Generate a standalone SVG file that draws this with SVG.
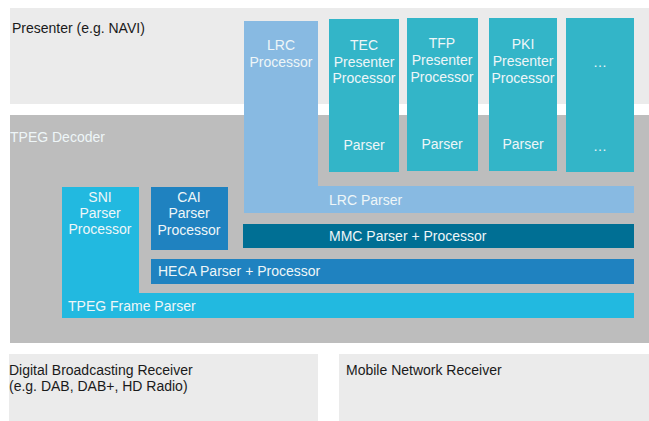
<svg xmlns="http://www.w3.org/2000/svg" width="649" height="421" viewBox="0 0 649 421">
<style>
text{font-family:"Liberation Sans",Arial,sans-serif;font-size:14px}
.dk{fill:#1a1a1a}
.lt{fill:#eef6f8}
.c{text-anchor:middle}
.teal{fill:#33b5c8}
</style>
<rect width="649" height="421" fill="#ffffff"/>
<g id="presenter">
<rect x="10" y="8" width="639" height="96" fill="#ebebeb"/>
<text class="dk" x="12" y="33">Presenter (e.g. NAVI)</text>
</g>
<g id="decoder">
<rect x="10" y="115" width="639" height="228" fill="#bdbdbd"/>
<text class="lt" x="10" y="142">TPEG Decoder</text>
</g>
<g id="lrc">
<path d="M244 21H318V186H634V213H244Z" fill="#88bae2"/>
<text class="lt c" x="281" y="50">LRC</text>
<text class="lt c" x="281" y="67">Processor</text>
<text class="lt" x="329" y="205">LRC Parser</text>
</g>
<g id="tec">
<rect class="teal" x="329" y="19" width="70" height="153"/>
<text class="lt c" x="364" y="50">TEC</text>
<text class="lt c" x="364" y="67">Presenter</text>
<text class="lt c" x="364" y="83">Processor</text>
<text class="lt c" x="364" y="150">Parser</text>
</g>
<g id="tfp">
<rect class="teal" x="407" y="18" width="71" height="153"/>
<text class="lt c" x="442" y="48">TFP</text>
<text class="lt c" x="442" y="65">Presenter</text>
<text class="lt c" x="442" y="82">Processor</text>
<text class="lt c" x="442" y="149">Parser</text>
</g>
<g id="pki">
<rect class="teal" x="489" y="18" width="68" height="153"/>
<text class="lt c" x="523" y="49">PKI</text>
<text class="lt c" x="523" y="66">Presenter</text>
<text class="lt c" x="523" y="83">Processor</text>
<text class="lt c" x="523" y="149">Parser</text>
</g>
<g id="more">
<rect class="teal" x="566" y="18" width="68" height="154"/>
<text class="lt c" x="600" y="67">…</text>
<text class="lt c" x="600" y="151">…</text>
</g>
<g id="mmc">
<rect x="243" y="224" width="391" height="24" fill="#006f94"/>
<text class="lt" x="329" y="241">MMC Parser + Processor</text>
</g>
<g id="cai">
<rect x="151" y="187" width="77" height="63" fill="#1f82c0"/>
<text class="lt c" x="189" y="202">CAI</text>
<text class="lt c" x="189" y="218">Parser</text>
<text class="lt c" x="189" y="235">Processor</text>
</g>
<g id="heca">
<rect x="151" y="259" width="483" height="25" fill="#1f82c0"/>
<text class="lt" x="158" y="276">HECA Parser + Processor</text>
</g>
<g id="sni">
<path d="M62 187H139V293H634V318H62Z" fill="#22b9e0"/>
<text class="lt c" x="100" y="202">SNI</text>
<text class="lt c" x="100" y="218">Parser</text>
<text class="lt c" x="100" y="234">Processor</text>
<text class="lt" x="68" y="311">TPEG Frame Parser</text>
</g>
<g id="dbr">
<rect x="9" y="354" width="309" height="67" fill="#ebebeb"/>
<text class="dk" x="9" y="375">Digital Broadcasting Receiver</text>
<text class="dk" x="9" y="391">(e.g. DAB, DAB+, HD Radio)</text>
</g>
<g id="mnr">
<rect x="339" y="354" width="310" height="67" fill="#ebebeb"/>
<text class="dk" x="346" y="375">Mobile Network Receiver</text>
</g>
<g id="connectors"/>
</svg>
